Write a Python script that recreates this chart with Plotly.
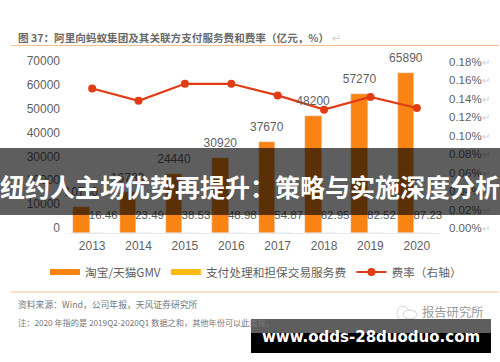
import plotly.graph_objects as go

W, H = 500, 362
M = 12  # vertical page margin reserved around the plotting area
years = ["2013", "2014", "2015", "2016", "2017", "2018", "2019", "2020"]
gmv = [10780, 16780, 24440, 30920, 37670, 48200, 57270, 65890]
fees = [16.46, 23.49, 38.53, 48.98, 54.87, 62.95, 82.52, 87.23]
rate = [0.153, 0.140, 0.158, 0.158, 0.1457, 0.1306, 0.144, 0.1324]
left_ticks = [0, 10000, 20000, 30000, 40000, 50000, 60000, 70000]
right_ticks = [0, 0.02, 0.04, 0.06, 0.08, 0.10, 0.12, 0.14, 0.16, 0.18]

GREY = "#5f5f5f"
ORANGE = "#f98313"
YELLOW = "#fdb813"
RED = "#e23c14"
FONT = "Liberation Sans, Noto Sans CJK SC"
CJK = "Noto Sans CJK SC, Liberation Sans"

def py(y):
    return (H - M - y) / (H - 2 * M)
def px(x):
    return x / W

fig = go.Figure()
fig.add_bar(x=years, y=gmv, marker_color=ORANGE, showlegend=False,
            width=0.356, offset=-0.41)
fig.add_bar(x=years, y=fees, marker_color=YELLOW, showlegend=False,
            width=0.356, offset=-0.05)
# legend keys drawn as thick bands, like the reference
fig.add_scatter(name="淘宝/天猫GMV", x=[years[0]], y=[None], mode="lines",
                line=dict(color=ORANGE, width=6))
fig.add_scatter(name="支付处理和担保交易服务费", x=[years[0]], y=[None], mode="lines",
                line=dict(color=YELLOW, width=6))
fig.add_scatter(name="费率（右轴）", x=years, y=rate, yaxis="y2", mode="lines+markers",
                line=dict(color=RED, width=2.2), marker=dict(size=8, color=RED))
# value labels, on hidden axes shifted from the bars so they sit where the reference has them
fig.add_scatter(x=years, y=fees, xaxis="x3", yaxis="y5", mode="text", showlegend=False,
                text=[f"{v:.2f}" for v in fees], textposition="middle center",
                textfont=dict(size=11.5, color=GREY, family=FONT), cliponaxis=False)
fig.add_scatter(x=years, y=gmv, xaxis="x4", yaxis="y6", mode="text", showlegend=False,
                text=[str(v) for v in gmv], textposition="middle center",
                textfont=dict(size=12, color=GREY, family=FONT), cliponaxis=False)
# tick-label axes
fig.add_scatter(x=[years[0]], y=[None], xaxis="x3", yaxis="y3", showlegend=False)
fig.add_scatter(x=[years[0]], y=[None], xaxis="x3", yaxis="y4", showlegend=False)

arrow = "<span style='color:#cfcfcf;font-size:10px'>↵</span>"
xdom = [px(69), px(440)]
fig.update_layout(
    width=W, height=H, margin=dict(l=0, r=0, t=M, b=M, pad=0),
    paper_bgcolor="white", plot_bgcolor="rgba(0,0,0,0)", barmode="overlay",
    font=dict(family=FONT, color=GREY, size=12),
    xaxis=dict(domain=xdom, type="category", categoryorder="array", categoryarray=years,
               range=[-0.5, 7.5], showgrid=False, showline=True, linecolor="#e8e8e8", linewidth=1,
               ticks="", tickfont=dict(size=12, color=GREY), anchor="y", ticklabelstandoff=2),
    yaxis=dict(domain=[py(233), py(63)], range=[0, 70000], showgrid=False, showticklabels=False,
               zeroline=False, ticks=""),
    yaxis2=dict(domain=[py(233), py(63)], range=[0, 0.18], overlaying="y", side="right",
                showgrid=False, showticklabels=False, zeroline=False, ticks=""),
    xaxis3=dict(domain=[px(69 + 11), px(440 + 11)], type="category", categoryorder="array",
                categoryarray=years, range=[-0.5, 7.5], visible=False, anchor="y3"),
    xaxis4=dict(domain=[px(69 - 11), px(440 - 11)], type="category", categoryorder="array",
                categoryarray=years, range=[-0.5, 7.5], visible=False, anchor="y6"),
    yaxis3=dict(domain=[py(228), py(61)], range=[0, 70000], tickvals=left_ticks, ticktext=[str(v) for v in left_ticks],
                anchor="free", position=px(60), side="left", showgrid=False, zeroline=False,
                showline=False, ticks="", tickfont=dict(size=12, color=GREY)),
    yaxis4=dict(domain=[py(228), py(62)], range=[0, 0.18], tickvals=right_ticks,
                ticktext=[f"{v:.2f}%" + arrow for v in right_ticks],
                anchor="free", position=px(448), side="right", showgrid=False, zeroline=False,
                showline=False, ticks="", tickfont=dict(size=11.5, color=GREY)),
    yaxis5=dict(domain=[py(216), py(46)], range=[0, 70000], visible=False, anchor="x3"),
    yaxis6=dict(domain=[py(233 - 13.5), py(63 - 13.5)], range=[0, 70000], visible=False, anchor="x4"),
    legend=dict(orientation="h", x=px(45), y=py(272),
                yanchor="middle", xanchor="left",
                font=dict(size=11.7, color=GREY, family=CJK), bgcolor="rgba(0,0,0,0)",
                itemwidth=30, tracegroupgap=0),
    showlegend=True,
    bargap=0,
)

rules = [dict(type="line", xref="paper", yref="paper", x0=px(11), x1=px(499), y0=py(y), y1=py(y),
              line=dict(color="#f9c08f", width=1)) for y in (45.5, 292)]
overlay = [
    dict(type="rect", xref="paper", yref="paper", x0=0, x1=1, y0=py(215), y1=py(148),
         fillcolor="rgba(0,0,0,0.63)", line_width=0, layer="above"),
    dict(type="rect", xref="paper", yref="paper", x0=px(251), x1=px(491), y0=py(333), y1=py(319),
         fillcolor="rgba(0,0,0,0.63)", line_width=0, layer="above"),
    dict(type="rect", xref="paper", yref="paper", x0=px(251), x1=px(491), y0=py(353), y1=py(333),
         fillcolor="#000000", line_width=0, layer="above"),
]
logo = [
    dict(type="circle", xref="paper", yref="paper", x0=px(397), x1=px(409), y0=py(320), y1=py(306),
         line=dict(color="#d8d8d8", width=1)),
    dict(type="circle", xref="paper", yref="paper", x0=px(403), x1=px(417), y0=py(319), y1=py(310),
         line=dict(color="#d0d0d0", width=1), fillcolor="white"),
]
fig.update_layout(shapes=rules + logo + overlay)

def note(text, x, y, size, color, anchor="left", family=CJK):
    fig.add_annotation(text=text, xref="paper", yref="paper", x=px(x), y=py(y), showarrow=False,
                       xanchor=anchor, yanchor="middle", font=dict(size=size, color=color, family=family),
                       borderpad=0, borderwidth=0)

note("<b>图 37：阿里向蚂蚁集团及其关联方支付服务费和费率（亿元，%）</b><span style='color:#cfcfcf'> ↵</span>", 18, 37.5, 10.6, "#6b6b6b")
note("资料来源：Wind，公司年报，天风证券研究所", 18, 304, 8.8, "#777777")
note("注：2020 年指的是 2019Q2-2020Q1 数据之和，其他年份可以此类推。", 18, 322, 8.2, "#777777")
note("报告研究所", 422, 312, 12.3, "#9a9a9a")
note("<b>纽约人主场优势再提升：策略与实施深度分析</b>", 250, 186, 25, "#ffffff", anchor="center")
note("<b>www.odds-28duoduo.com</b>", 370.5, 337, 15, "#ffffff", anchor="center", family="DejaVu Sans")

fig.write_html("out.html", config=dict(displayModeBar=False),
               post_script="document.body.style.margin='0';")
